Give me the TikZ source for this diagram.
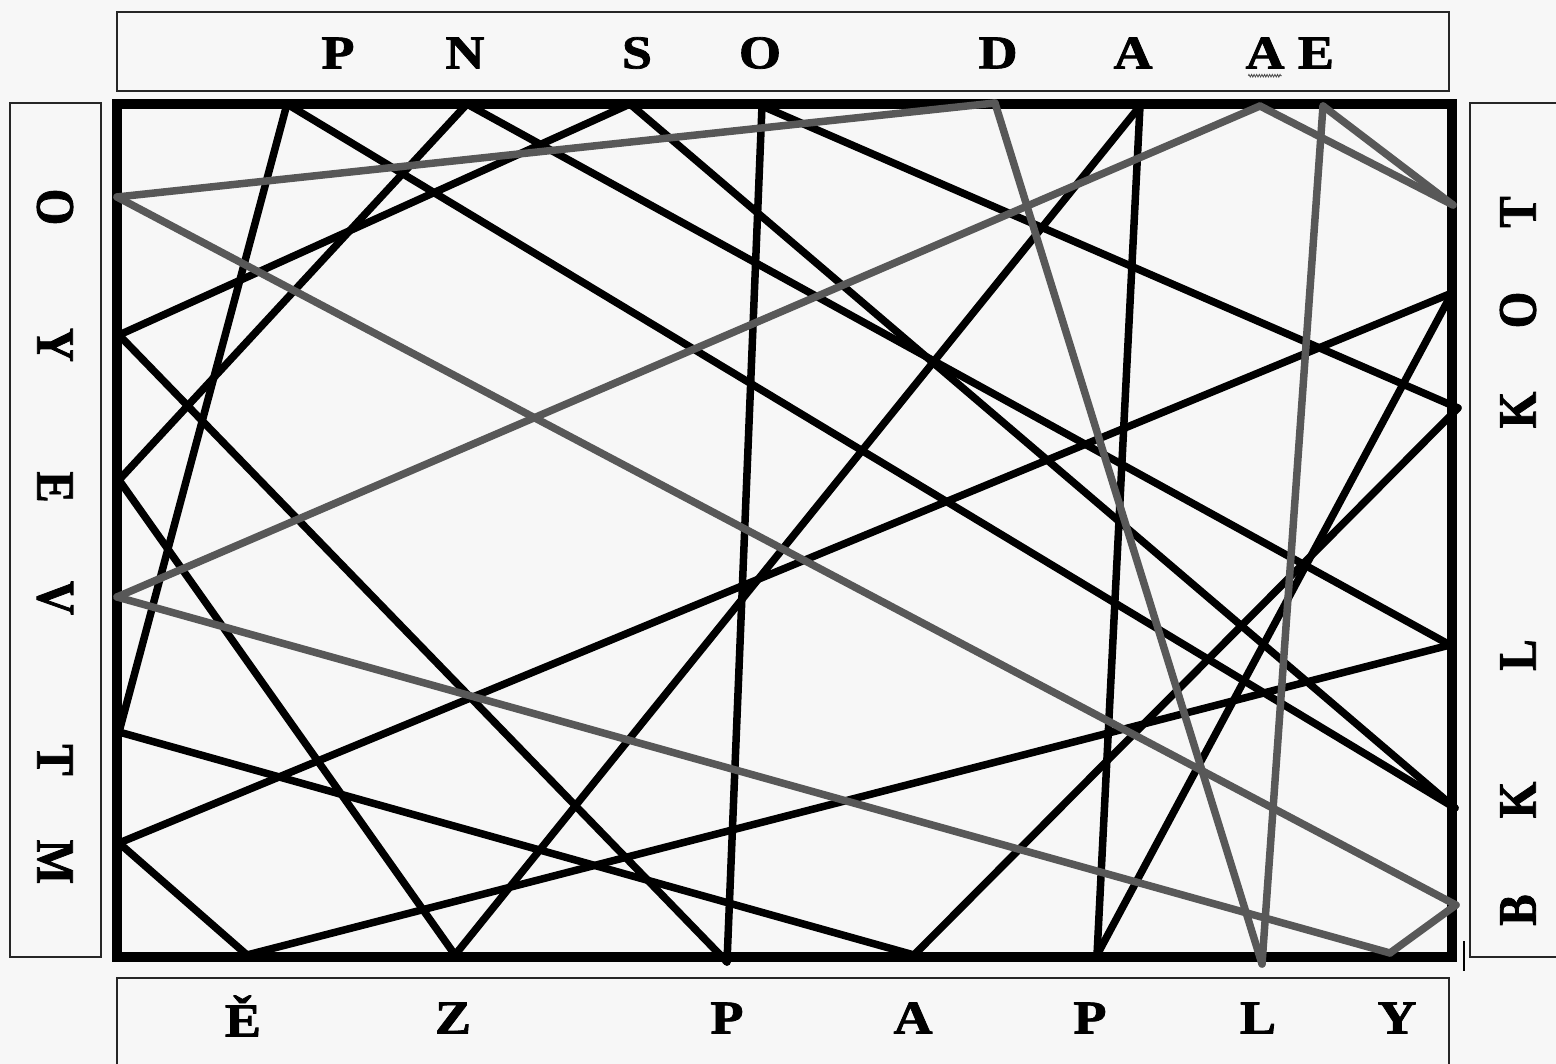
\documentclass[tikz,border=0pt]{standalone}
\usepackage{fontspec}
\setmainfont{Liberation Serif}
\newfontfamily\labfont{Liberation Serif}[BoldFeatures={FakeBold=1.6}]
\usetikzlibrary{decorations.pathmorphing}
\definecolor{bg}{RGB}{247,247,247}
\definecolor{grayline}{RGB}{88,88,88}
\begin{document}
\begin{tikzpicture}[x=1pt,y=-1pt,
  blk/.style={line width=7.5pt, line cap=round, line join=round, black},
  gry/.style={line width=7.5pt, line cap=round, line join=round, grayline},
  lab/.style={font=\fontsize{47}{47}\labfont\bfseries, inner sep=0pt, xscale=1.15},
  labl/.style={lab, rotate=-90},
  labr/.style={lab, rotate=90},
  lbox/.style={draw=black!85, line width=1.8pt},
  frame/.style={line width=10pt, black, line join=miter}]
\fill[bg] (0,0) rectangle (1556,1064);
\useasboundingbox (0,0) rectangle (1556,1064);

% label boxes
\draw[lbox] (117,12) rectangle (1449,91);
\draw[lbox] (10,103) rectangle (101,957);
\draw[lbox] (1570,103) -- (1470,103) -- (1470,957) -- (1570,957);
\draw[lbox] (117,1075) -- (117,978) -- (1449,978) -- (1449,1075);

% labels top
\node[lab] (ltP)  at (338,53) {P};
\node[lab] (ltN)  at (465,53) {N};
\node[lab] (ltS)  at (637,53) {S};
\node[lab] (ltO)  at (760,53) {O};
\node[lab] (ltD)  at (998,53) {D};
\node[lab] (ltA1) at (1133,53) {A};
\node[lab] (ltA2) at (1265,53) {A};
\node[lab] (ltE)  at (1316,53) {E};
\draw[black!70, line width=0.8pt, decorate, decoration={zigzag, amplitude=1.3pt, segment length=2.6pt}]
  ([yshift=-7pt,xshift=3pt]ltA2.south west) -- ([yshift=-7pt,xshift=-3pt]ltA2.south east);
% labels bottom
\node[lab] (lbE)  at (243,1016) {Ě};
\node[lab] (lbZ)  at (453,1018) {Z};
\node[lab] (lbP1) at (727,1018) {P};
\node[lab] (lbA)  at (913,1018) {A};
\node[lab] (lbP2) at (1090,1018) {P};
\node[lab] (lbL)  at (1258,1018) {L};
\node[lab] (lbY)  at (1397,1018) {Y};
% labels left
\node[labl] (llO) at (55,207) {O};
\node[labl] (llY) at (55,345) {Y};
\node[labl] (llE) at (55,487) {E};
\node[labl] (llV) at (55,598) {V};
\node[labl] (llT) at (55,760) {T};
\node[labl] (llM) at (55,862) {M};
% labels right
\node[labr] (lrT)  at (1518,212) {T};
\node[labr] (lrO)  at (1518,310) {O};
\node[labr] (lrK1) at (1518,410) {K};
\node[labr] (lrL)  at (1518,655) {L};
\node[labr] (lrK2) at (1518,800) {K};
\node[labr] (lrB)  at (1518,910) {B};

% main frame
\draw[frame] (117,104) rectangle (1452,957);

% endpoints
\coordinate (tP) at (287,104);
\coordinate (tN) at (467,104);
\coordinate (tS) at (630,104);
\coordinate (tO) at (762,106);
\coordinate (tD) at (995,103);
\coordinate (tA1) at (1140,106);
\coordinate (tA2) at (1260,106);
\coordinate (tE) at (1323,106);
\coordinate (lO) at (117,197);
\coordinate (lY) at (119,335);
\coordinate (lE) at (119,480);
\coordinate (lV) at (117,597);
\coordinate (lT) at (119,732);
\coordinate (lM) at (119,843);
\coordinate (rT) at (1453,205);
\coordinate (rO) at (1452,293);
\coordinate (rK1) at (1458,408);
\coordinate (rL) at (1450,645);
\coordinate (rK2) at (1455,808);
\coordinate (rB) at (1456,905);
\coordinate (bE) at (247,955);
\coordinate (bZ) at (455,955);
\coordinate (bP1) at (727,962);
\coordinate (bA) at (914,955);
\coordinate (bP2) at (1097,955);
\coordinate (bL) at (1262,964);
\coordinate (bY) at (1390,953);
\coordinate (tk1) at (1464,941);
\coordinate (tk2) at (1464,971);

% black lines
\draw[blk] (tP) -- (lT);
\draw[blk] (tP) -- (rK2);
\draw[blk] (tN) -- (lE);
\draw[blk] (tN) -- (rL);
\draw[blk] (tS) -- (lY);
\draw[blk] (tS) -- (rK2);
\draw[blk] (tO) -- (bP1);
\draw[blk] (tO) -- (rK1);
\draw[blk] (tA1) -- (bZ);
\draw[blk] (tA1) -- (bP2);
\draw[blk] (lY) -- (bP1);
\draw[blk] (lE) -- (bZ);
\draw[blk] (lT) -- (bA);
\draw[blk] (lM) -- (rO);
\draw[blk] (lM) -- (bE);
\draw[blk] (bE) -- (rL);
\draw[blk] (bA) -- (rK1);
\draw[blk] (bP2) -- (rO);
\draw[line width=2.5pt, black] (tk1) -- (tk2);

% gray lines
\draw[gry] (lO) -- (tD);
\draw[gry] (tD) -- (bL);
\draw[gry] (bL) -- (tE);
\draw[gry] (tE) -- (rT);
\draw[gry] (rT) -- (tA2);
\draw[gry] (tA2) -- (lV);
\draw[gry] (lV) -- (bY);
\draw[gry] (bY) -- (rB);
\draw[gry] (rB) -- (lO);
\end{tikzpicture}
\end{document}
